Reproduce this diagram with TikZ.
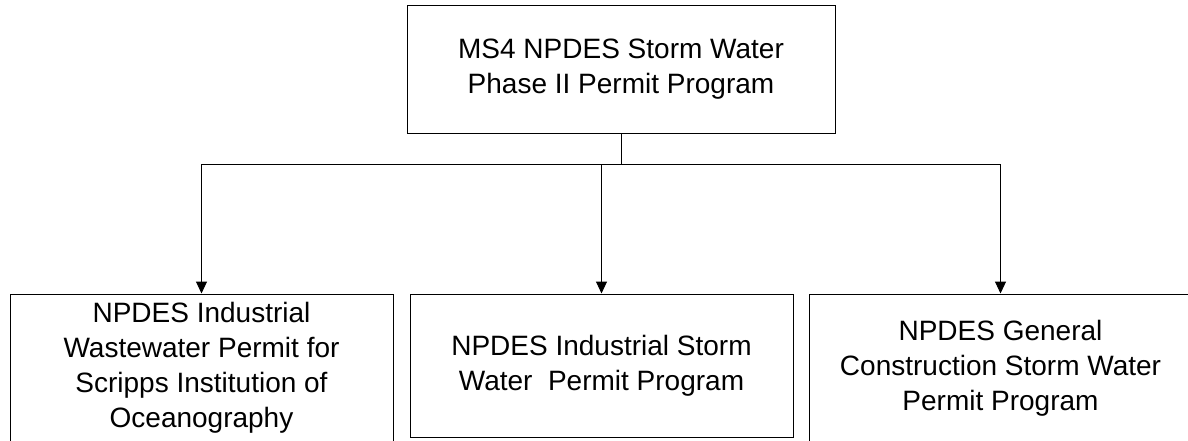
\documentclass[tikz,border=0pt]{standalone}
\usepackage{fontspec}
\setmainfont{Liberation Sans}
\usepackage{tikz}
\usetikzlibrary{arrows.meta,positioning}
\definecolor{inkblk}{HTML}{000000}
\newcommand{\permitfont}{\fontsize{14pt}{17.5pt}\selectfont}
\tikzset{
  permitbox/.style={
    rectangle, draw=inkblk, line width=0.5pt,
    font=\permitfont, align=center, inner sep=4pt
  },
  branch/.style={
    -{Triangle[length=6pt,width=5.5pt]}, line width=0.5pt, color=inkblk
  },
}

\begin{document}
\begin{tikzpicture}[x=0.5pt,y=-0.5pt]
  \useasboundingbox (0,0) rectangle (1188,440);
  \clip (0,0) rectangle (1188,440);

  % Parent program
  \node[permitbox, minimum width=214pt, minimum height=64pt] (ms4) at (621,69) {
    MS4 NPDES Storm Water\\Phase II Permit Program
  };

  % Permit programs below
  \node[permitbox, minimum width=191.5pt, minimum height=74pt] (wastewater) at (201.5,368) {
    NPDES Industrial\\Wastewater Permit for\\Scripps Institution of\\Oceanography
  };
  \node[permitbox, minimum width=191.5pt, minimum height=71.5pt] (industrial) at (601.5,365.5) {
    NPDES Industrial Storm\\Water\ \ Permit Program
  };
  \node[permitbox, minimum width=191.5pt, minimum height=74pt] (construction) at (1000.5,368) {
    NPDES General\\Construction Storm Water\\Permit Program
  };

  % Connectors
  \coordinate (split) at ([yshift=-15.5pt]ms4.south);
  \draw[branch] (ms4.south) -- (split) -| (wastewater.north);
  \draw[branch] (split) -| (industrial.north);
  \draw[branch] (split) -| (construction.north);
\end{tikzpicture}
\end{document}
